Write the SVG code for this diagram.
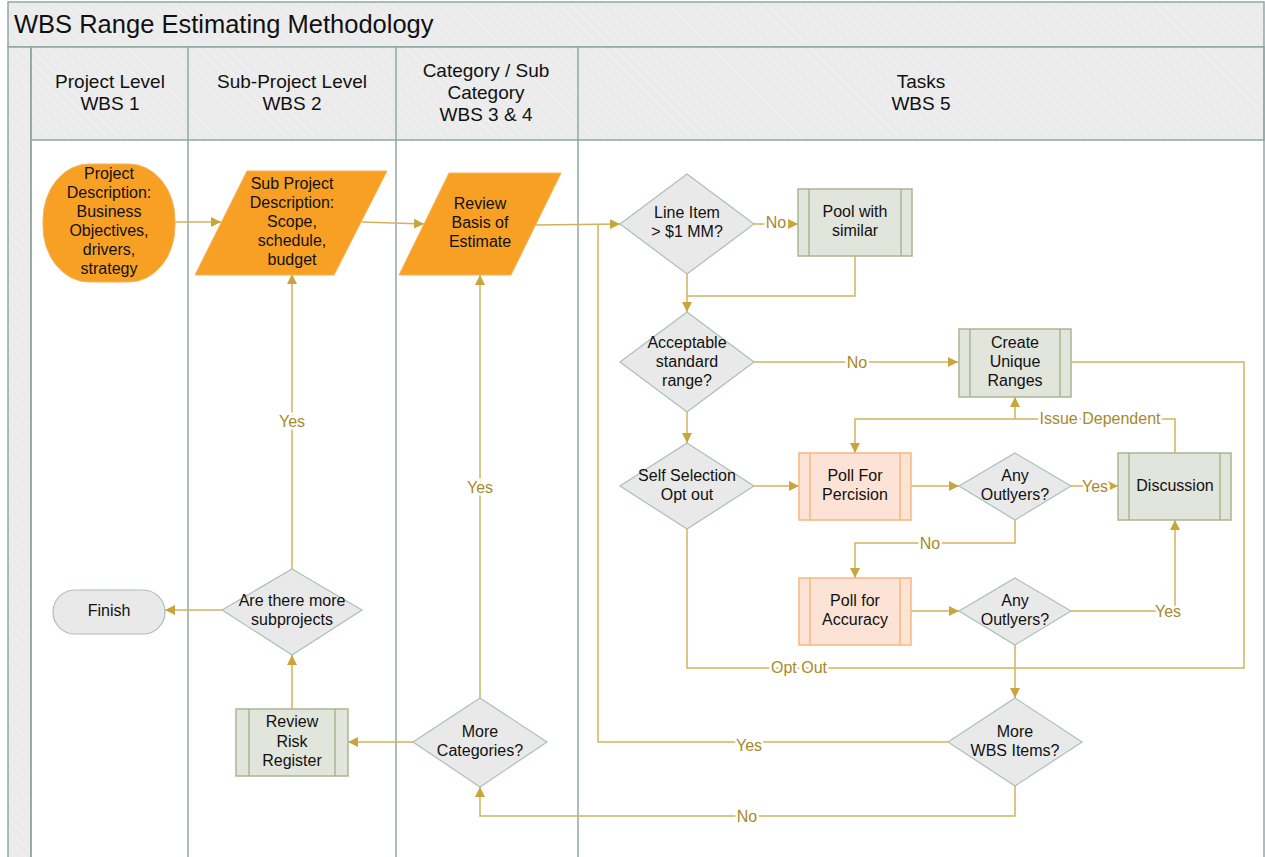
<svg xmlns="http://www.w3.org/2000/svg" width="1265" height="857" viewBox="0 0 1265 857">
<defs>
<pattern id="hatch" patternUnits="userSpaceOnUse" width="7" height="7" patternTransform="rotate(-45)">
<rect width="7" height="7" fill="#ebebeb"/>
<line x1="0" y1="0" x2="0" y2="7" stroke="#f3f3f3" stroke-width="1.5"/>
</pattern>
<marker id="arr" viewBox="0 0 10 10" refX="10" refY="5" markerWidth="10" markerHeight="10" markerUnits="userSpaceOnUse" orient="auto">
<path d="M0,0 L10,5 L0,10 z" fill="#c9a53c"/>
</marker>
</defs>
<style>
.lane{stroke:#8fa8a2;stroke-width:1.5;fill:none}
.hdr{font-family:"Liberation Sans",Arial,sans-serif;font-size:19px;fill:#111;text-anchor:middle}
.t{font-family:"Liberation Sans",Arial,sans-serif;font-size:16px;fill:#111;text-anchor:middle}
.c{stroke:#d2b25c;stroke-width:1.5;fill:none}
.ca{stroke:#d2b25c;stroke-width:1.5;fill:none;marker-end:url(#arr)}
.lbl{font-family:"Liberation Sans",Arial,sans-serif;font-size:16px;fill:#a68a2a;text-anchor:middle;paint-order:stroke;stroke:#fff;stroke-width:5px}
.dia{fill:#e9e9e9;stroke:#a9c0b9;stroke-width:1.2}
.orange{fill:#f8a024;stroke:#f3b35a;stroke-width:1}
.grn{fill:#e2e5dc;stroke:#aab592;stroke-width:1.5}
.pink{fill:#fde3d6;stroke:#f7b77f;stroke-width:1.5}
.term{fill:#e9e9e9;stroke:#a9c0b9;stroke-width:1.2}
</style>
<rect width="1265" height="857" fill="#fff"/>
<g id="pool">
<rect x="8" y="2" width="1256" height="45" fill="url(#hatch)" stroke="#8fa8a2" stroke-width="1.5"/>
<text x="14" y="33" font-family="Liberation Sans,Arial,sans-serif" font-size="25.5" fill="#111">WBS Range Estimating Methodology</text>
<rect x="8" y="47" width="23" height="812" fill="url(#hatch)" stroke="#8fa8a2" stroke-width="1.5"/>
<rect x="31" y="47" width="1233" height="93" fill="url(#hatch)" stroke="#8fa8a2" stroke-width="1.5"/>
<line class="lane" x1="31" y1="47" x2="31" y2="857"/>
<line class="lane" x1="188" y1="47" x2="188" y2="857"/>
<line class="lane" x1="396" y1="47" x2="396" y2="857"/>
<line class="lane" x1="578" y1="47" x2="578" y2="857"/>
<line class="lane" x1="1264" y1="47" x2="1264" y2="857"/>
<text class="hdr"><tspan x="110" y="88">Project Level</tspan><tspan x="110" y="110">WBS 1</tspan></text>
<text class="hdr"><tspan x="292" y="88">Sub-Project Level</tspan><tspan x="292" y="110">WBS 2</tspan></text>
<text class="hdr"><tspan x="486" y="77">Category / Sub</tspan><tspan x="486" y="99">Category</tspan><tspan x="486" y="121">WBS 3 &amp; 4</tspan></text>
<text class="hdr"><tspan x="921" y="88">Tasks</tspan><tspan x="921" y="110">WBS 5</tspan></text>
</g>
<g id="connectors">
<path class="ca" d="M175,222 H221"/>
<path class="ca" d="M362,222 L424,224"/>
<path class="ca" d="M535,225 L620,224"/>
<path class="c" d="M948,742 H598 V224"/>
<path class="ca" d="M754,224 H798"/>
<path class="c" d="M855,256 V296 H687"/>
<path class="ca" d="M687,274 V312"/>
<path class="ca" d="M754,362 H958"/>
<path class="ca" d="M687,412 V443"/>
<path class="c" d="M1071,362 H1244 V668 H687 V529"/>
<path class="ca" d="M754,486 H799"/>
<path class="ca" d="M911,486 H959"/>
<path class="ca" d="M1071,486 H1118"/>
<path class="ca" d="M1175,453 V419 H855 V453"/>
<path class="ca" d="M1015,419 V397"/>
<path class="ca" d="M1015,520 V543 H855 V578"/>
<path class="ca" d="M911,611 H959"/>
<path class="ca" d="M1071,611 H1175 V520"/>
<path class="ca" d="M1015,645 V698"/>
<path class="ca" d="M1015,786 V816 H480 V787"/>
<path class="ca" d="M413,742 H348"/>
<path class="ca" d="M480,698 V275"/>
<path class="ca" d="M292,709 V655"/>
<path class="ca" d="M292,569 V274"/>
<path class="ca" d="M222,610 H165"/>
<text class="lbl" x="776" y="228">No</text>
<text class="lbl" x="857" y="368">No</text>
<text class="lbl" x="1100" y="424">Issue Dependent</text>
<text class="lbl" x="1095" y="492">Yes</text>
<text class="lbl" x="930" y="549">No</text>
<text class="lbl" x="1168" y="617">Yes</text>
<text class="lbl" x="799" y="673">Opt Out</text>
<text class="lbl" x="749" y="751">Yes</text>
<text class="lbl" x="747" y="822">No</text>
<text class="lbl" x="480" y="493">Yes</text>
<text class="lbl" x="292" y="427">Yes</text>
</g>
<g id="projdesc">
<rect class="orange" x="43" y="164" width="132" height="118" rx="46" ry="56" stroke="#b9b59e"/>
<text class="t"><tspan x="109" y="179">Project</tspan><tspan x="109" y="198">Description:</tspan><tspan x="109" y="217">Business</tspan><tspan x="109" y="236">Objectives,</tspan><tspan x="109" y="255">drivers,</tspan><tspan x="109" y="274">strategy</tspan></text>
</g>
<g id="subproj">
<polygon class="orange" points="247,171 387,171 334,275 195,275"/>
<text class="t"><tspan x="292" y="189">Sub Project</tspan><tspan x="292" y="208">Description:</tspan><tspan x="292" y="227">Scope,</tspan><tspan x="292" y="246">schedule,</tspan><tspan x="292" y="265">budget</tspan></text>
</g>
<g id="review">
<polygon class="orange" points="449,173 561,173 511,275 399,275"/>
<text class="t"><tspan x="480" y="209">Review</tspan><tspan x="480" y="228">Basis of</tspan><tspan x="480" y="247">Estimate</tspan></text>
</g>
<g id="lineitem">
<polygon class="dia" points="687,174 754,224 687,274 620,224"/>
<text class="t"><tspan x="687" y="218">Line Item</tspan><tspan x="687" y="237">&gt; $1 MM?</tspan></text>
</g>
<g id="pool-similar">
<rect class="grn" x="798" y="189" width="114" height="67"/>
<line class="grn" x1="809" y1="189" x2="809" y2="256"/><line class="grn" x1="901" y1="189" x2="901" y2="256"/>
<text class="t"><tspan x="855" y="217">Pool with</tspan><tspan x="855" y="236">similar</tspan></text>
</g>
<g id="acceptable">
<polygon class="dia" points="687,312 754,362 687,412 620,362"/>
<text class="t"><tspan x="687" y="348">Acceptable</tspan><tspan x="687" y="367">standard</tspan><tspan x="687" y="386">range?</tspan></text>
</g>
<g id="create">
<rect class="grn" x="959" y="329" width="112" height="68"/>
<line class="grn" x1="970" y1="329" x2="970" y2="397"/><line class="grn" x1="1060" y1="329" x2="1060" y2="397"/>
<text class="t"><tspan x="1015" y="348">Create</tspan><tspan x="1015" y="367">Unique</tspan><tspan x="1015" y="386">Ranges</tspan></text>
</g>
<g id="selfsel">
<polygon class="dia" points="687,443 754,486 687,529 620,486"/>
<text class="t"><tspan x="687" y="481">Self Selection</tspan><tspan x="687" y="500">Opt out</tspan></text>
</g>
<g id="pollprec">
<rect class="pink" x="799" y="453" width="112" height="67"/>
<line class="pink" x1="810" y1="453" x2="810" y2="520"/><line class="pink" x1="900" y1="453" x2="900" y2="520"/>
<text class="t"><tspan x="855" y="481">Poll For</tspan><tspan x="855" y="500">Percision</tspan></text>
</g>
<g id="outlyers1">
<polygon class="dia" points="1015,453 1071,486 1015,520 959,486"/>
<text class="t"><tspan x="1015" y="481">Any</tspan><tspan x="1015" y="500">Outlyers?</tspan></text>
</g>
<g id="discussion">
<rect class="grn" x="1118" y="453" width="113" height="67"/>
<line class="grn" x1="1129" y1="453" x2="1129" y2="520"/><line class="grn" x1="1220" y1="453" x2="1220" y2="520"/>
<text class="t" x="1175" y="491">Discussion</text>
</g>
<g id="pollacc">
<rect class="pink" x="799" y="578" width="112" height="67"/>
<line class="pink" x1="810" y1="578" x2="810" y2="645"/><line class="pink" x1="900" y1="578" x2="900" y2="645"/>
<text class="t"><tspan x="855" y="606">Poll for</tspan><tspan x="855" y="625">Accuracy</tspan></text>
</g>
<g id="outlyers2">
<polygon class="dia" points="1015,578 1071,611 1015,645 959,611"/>
<text class="t"><tspan x="1015" y="606">Any</tspan><tspan x="1015" y="625">Outlyers?</tspan></text>
</g>
<g id="morewbs">
<polygon class="dia" points="1015,698 1082,742 1015,786 948,742"/>
<text class="t"><tspan x="1015" y="737">More</tspan><tspan x="1015" y="756">WBS Items?</tspan></text>
</g>
<g id="morecat">
<polygon class="dia" points="480,698 547,742 480,787 413,742"/>
<text class="t"><tspan x="480" y="737">More</tspan><tspan x="480" y="756">Categories?</tspan></text>
</g>
<g id="risk">
<rect class="grn" x="236" y="709" width="112" height="67"/>
<line class="grn" x1="249" y1="709" x2="249" y2="776"/><line class="grn" x1="335" y1="709" x2="335" y2="776"/>
<text class="t"><tspan x="292" y="727">Review</tspan><tspan x="292" y="747">Risk</tspan><tspan x="292" y="766">Register</tspan></text>
</g>
<g id="moresub">
<polygon class="dia" points="292,569 362,610 292,655 222,610"/>
<text class="t"><tspan x="292" y="606">Are there more</tspan><tspan x="292" y="625">subprojects</tspan></text>
</g>
<g id="finish">
<rect class="term" x="53" y="590" width="112" height="44" rx="22" ry="22"/>
<text class="t" x="109" y="616">Finish</text>
</g>
</svg>
